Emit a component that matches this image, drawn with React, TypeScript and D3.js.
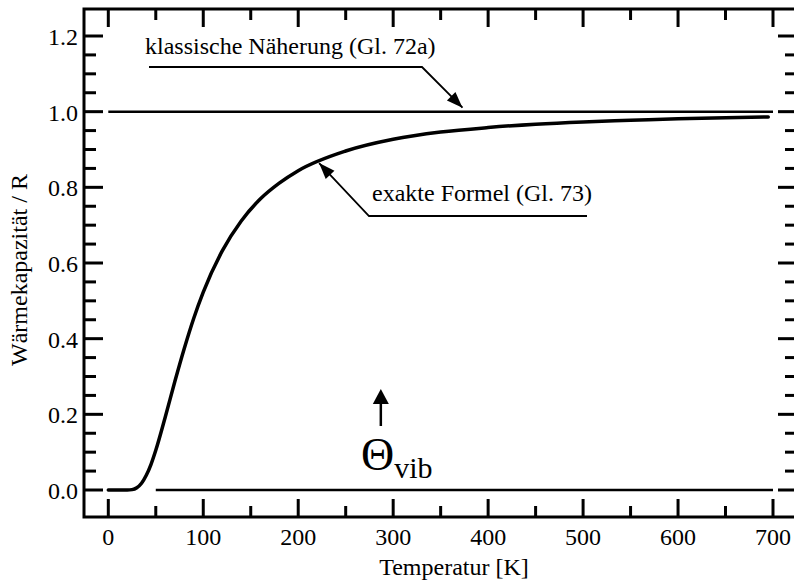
import { scaleLinear, line, curveMonotoneX, range } from 'd3';

// Einstein heat capacity (T in K, C/R)
const temperatures = [0, 10, 20, 25, 30, 35, 40, 45, 50, 60, 70, 80, 90, 100, 120, 140, 160, 180, 200, 250, 300, 350, 400, 450, 500, 550, 600, 650, 695];
const heatCapacity = [0, 0, 0, 0.001, 0.006, 0.018, 0.039, 0.068, 0.105, 0.193, 0.286, 0.374, 0.454, 0.523, 0.632, 0.711, 0.769, 0.811, 0.844, 0.896, 0.927, 0.946, 0.958, 0.967, 0.973, 0.977, 0.981, 0.984, 0.986];

const classicalValue = 1.0;
const classicalRange = [0, 700];
const zeroLineRange = [50, 700];
const thetaVib = 287;

const xTickValues = [0, 100, 200, 300, 400, 500, 600, 700];
const xMinorValues = range(0, 701, 50);
const yTickValues = [0, 0.2, 0.4, 0.6, 0.8, 1.0, 1.2];
const yMinorValues = range(0, 1.2001, 0.05);

const FONT = '"Liberation Serif", "Times New Roman", Times, "DejaVu Serif", serif';

export default function App() {
  const width = 794;
  const height = 583;
  const frame = { left: 84, top: 9, right: 797, bottom: 517 };

  const x = scaleLinear().domain([0, 700]).range([108.3, 773]);
  const y = scaleLinear().domain([0, 1.2]).range([490, 36]);

  const curvePath = line<number>()
    .x((_, i) => x(temperatures[i]))
    .y((d) => y(d))
    .curve(curveMonotoneX)(heatCapacity) ?? '';

  const majorLen = 19;
  const minorLen = 12;

  // annotation geometry
  const klTip = { x: x(373), y: y(1.0) - 4 };
  const klKnee = { x: 422, y: 67 };
  const exTip = { x: x(222), y: y(0.864) };
  const exKnee = { x: 369, y: 216 };

  const arrowHead = (tip: { x: number; y: number }, from: { x: number; y: number }, len = 16, half = 6) => {
    const dx = tip.x - from.x;
    const dy = tip.y - from.y;
    const d = Math.hypot(dx, dy);
    const ux = dx / d;
    const uy = dy / d;
    const bx = tip.x - ux * len;
    const by = tip.y - uy * len;
    return `M${tip.x},${tip.y}L${bx - uy * half},${by + ux * half}L${bx + uy * half},${by - ux * half}Z`;
  };

  const thetaX = x(thetaVib);
  const textStyle = { fontFamily: FONT };

  return (
    <div style={{ position: 'absolute', left: 0, top: 0 }}>
      <svg width={width} height={height} style={{ display: 'block', background: '#fff', fontFamily: FONT }}>
        {/* ticks */}
        <g stroke="#000" strokeWidth={3}>
          {xMinorValues.map((t) => {
            const len = t % 100 === 0 ? 18 : 11;
            return (
              <g key={`xt${t}`}>
                <line x1={x(t)} x2={x(t)} y1={frame.bottom} y2={frame.bottom - len} />
                <line x1={x(t)} x2={x(t)} y1={frame.top} y2={frame.top + len} />
              </g>
            );
          })}
          {yMinorValues.map((v, i) => {
            const len = i % 4 === 0 ? majorLen : minorLen;
            return (
              <g key={`yt${i}`}>
                <line x1={frame.left} x2={frame.left + len} y1={y(v)} y2={y(v)} />
                <line x1={frame.right} x2={frame.right - len} y1={y(v)} y2={y(v)} />
              </g>
            );
          })}
        </g>

        {/* frame */}
        <rect
          x={frame.left}
          y={frame.top}
          width={frame.right - frame.left}
          height={frame.bottom - frame.top}
          fill="none"
          stroke="#000"
          strokeWidth={3}
        />

        {/* tick labels */}
        <g fontSize={24} fill="#000" style={textStyle}>
          {xTickValues.map((t) => (
            <text key={`xl${t}`} x={x(t)} y={545} textAnchor="middle" style={textStyle}>
              {t}
            </text>
          ))}
          {yTickValues.map((v) => (
            <text key={`yl${v}`} x={78} y={y(v) + 9} textAnchor="end" style={textStyle}>
              {v.toFixed(1)}
            </text>
          ))}
        </g>

        {/* axis titles */}
        <text x={454} y={575} textAnchor="middle" fontSize={24} style={textStyle}>
          Temperatur [K]
        </text>
        <text transform="translate(27,270) rotate(-90)" textAnchor="middle" fontSize={24} style={textStyle}>
          Wärmekapazität / R
        </text>

        {/* reference lines */}
        <line
          x1={x(classicalRange[0])}
          x2={x(classicalRange[1])}
          y1={y(classicalValue)}
          y2={y(classicalValue)}
          stroke="#000"
          strokeWidth={2.5}
        />
        <line
          x1={x(zeroLineRange[0])}
          x2={x(zeroLineRange[1])}
          y1={y(0)}
          y2={y(0)}
          stroke="#000"
          strokeWidth={2.5}
        />

        {/* exact curve */}
        <path d={curvePath} fill="none" stroke="#000" strokeWidth={3.5} strokeLinecap="round" />

        {/* annotations */}
        <g stroke="#000" strokeWidth={1.8} fill="none">
          <polyline points={`149,67 ${klKnee.x},${klKnee.y} ${klTip.x},${klTip.y}`} />
          <polyline points={`587,216 ${exKnee.x},${exKnee.y} ${exTip.x},${exTip.y}`} />
          <line x1={thetaX} x2={thetaX} y1={426} y2={396} strokeWidth={2.5} />
        </g>
        <g fill="#000">
          <path d={arrowHead(klTip, klKnee)} />
          <path d={arrowHead(exTip, exKnee)} />
          <path d={arrowHead({ x: thetaX, y: 389 }, { x: thetaX, y: 426 }, 15, 8)} />
        </g>
        <text x={145} y={54} fontSize={24} style={textStyle}>
          klassische Näherung (Gl. 72a)
        </text>
        <text x={372} y={201} fontSize={24} style={textStyle}>
          exakte Formel (Gl. 73)
        </text>
        <text x={361} y={470} fontSize={46} style={textStyle}>
          Θ
          <tspan fontSize={30} dy={8}>
            vib
          </tspan>
        </text>
      </svg>
    </div>
  );
}
